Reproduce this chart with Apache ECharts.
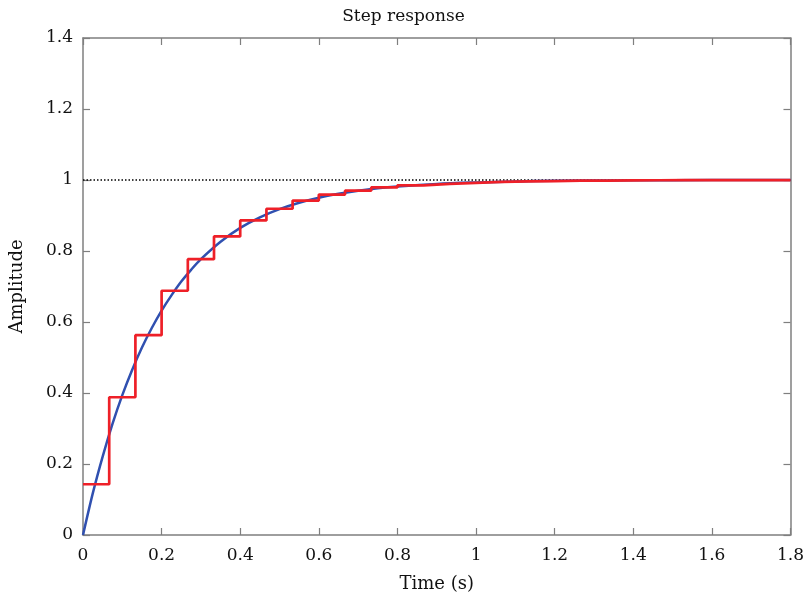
<!DOCTYPE html>
<html><head><meta charset="utf-8">
<script src="https://cdn.jsdelivr.net/npm/echarts@6/dist/echarts.min.js"></script>
<style>html,body{margin:0;padding:0;background:#fff}#c{width:807px;height:601px}</style>
</head><body><div id="c"></div>
<script>
// Continuous response (time, amplitude)
const contT = [0,0.025,0.05,0.075,0.1,0.125,0.15,0.175,0.2,0.225,0.25,0.275,0.3,0.35,0.4,0.45,0.5,0.55,0.6,0.65,0.7,0.75,0.8,0.9,1.0,1.1,1.2,1.4,1.6,1.8];
const contY = [0,0.118,0.221,0.313,0.394,0.465,0.528,0.583,0.632,0.675,0.714,0.747,0.777,0.826,0.865,0.895,0.918,0.936,0.950,0.961,0.970,0.977,0.982,0.989,0.993,0.996,0.998,0.999,1.0,1.0];
// Discrete (sampled) response
const discT = [0,0.0667,0.1333,0.2,0.2667,0.3333,0.4,0.4667,0.5333,0.6,0.6667,0.7333,0.8,0.8667,0.9333,1.0,1.0667,1.1333,1.2,1.2667,1.3333,1.4,1.4667,1.5333,1.6,1.6667,1.7333,1.8];
const discY = [0.143,0.388,0.563,0.688,0.777,0.841,0.886,0.919,0.942,0.959,0.970,0.979,0.985,0.989,0.992,0.9945,0.996,0.997,0.998,0.9985,0.999,0.9993,0.9995,0.9996,0.9997,0.9998,0.9999,0.9999];
const refLevel = 1;

const font = 'DejaVu Serif';
const chart = echarts.init(document.getElementById('c'));
const axisCol = '#7f7f7f';
const tick = {show:true,inside:true,length:7,lineStyle:{color:axisCol,width:1.2}};
const line = {show:true,onZero:false,lineStyle:{color:axisCol,width:1.5}};
chart.setOption({
  animation:false,
  title:{text:'Step response',left:'center',top:3,textStyle:{fontFamily:font,fontSize:17,fontWeight:'normal',color:'#111'}},
  grid:{left:82,right:16,top:38,bottom:66},
  xAxis:[{type:'value',min:0,max:1.8,interval:0.2,name:'Time (s)',nameLocation:'middle',nameGap:40,
    nameTextStyle:{fontFamily:font,fontSize:18,color:'#111'},
    axisLine:line,axisTick:tick,
    axisLabel:{fontFamily:font,fontSize:17,color:'#111',margin:12,formatter:v=>String(+v.toFixed(1))},splitLine:{show:false}},
    {type:'value',position:'top',min:0,max:1.8,interval:0.2,axisLine:line,axisTick:tick,axisLabel:{show:false},splitLine:{show:false}}],
  yAxis:[{type:'value',min:0,max:1.4,interval:0.2,name:'Amplitude',nameLocation:'middle',nameGap:57,
    nameTextStyle:{fontFamily:font,fontSize:18,color:'#111'},
    axisLine:line,axisTick:tick,
    axisLabel:{fontFamily:font,fontSize:17,color:'#111',margin:10,formatter:v=>String(+v.toFixed(1))},splitLine:{show:false}},
    {type:'value',position:'right',min:0,max:1.4,interval:0.2,axisLine:line,axisTick:tick,axisLabel:{show:false},splitLine:{show:false}}],
  series:[
    {type:'line',data:[[0,refLevel],[1.8,refLevel]],symbol:'none',lineStyle:{color:'#000',width:1.5,type:[1.5,2]},z:1},
    {type:'line',data:contT.map((t,i)=>[t,contY[i]]),smooth:0.3,symbol:'none',lineStyle:{color:'#3050b0',width:2.5},z:2},
    {type:'line',data:discT.map((t,i)=>[t,discY[i]]),step:'end',symbol:'none',lineStyle:{color:'#ee2028',width:2.7},z:3}
  ]
});
</script></body></html>
